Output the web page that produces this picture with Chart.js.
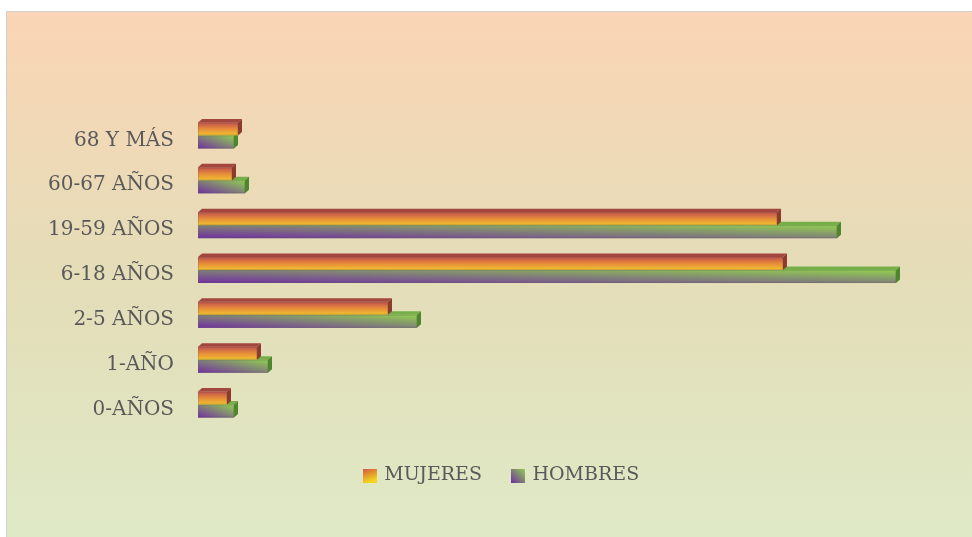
<!DOCTYPE html>
<html>
<head>
<meta charset="utf-8">
<title>Población por grupo de edad</title>
<script src="https://cdn.jsdelivr.net/npm/chart.js@4/dist/chart.umd.min.js"></script>
<style>
  html, body { margin: 0; padding: 0; background: #fff; }
  #wrap { width: 972px; height: 537px; }
</style>
</head>
<body>
<div id="wrap"><canvas id="edadChart" width="972" height="537"></canvas></div>
<script>
// categories, top to bottom
const categories = ['68 Y MÁS', '60-67 AÑOS', '19-59 AÑOS', '6-18 AÑOS', '2-5 AÑOS', '1-AÑO', '0-AÑOS'];
const mujeres = [40, 34, 579, 585, 190, 59, 29];
const hombres = [36, 47, 639, 698, 219, 70, 36];
const seriesNames = ['MUJERES', 'HOMBRES'];
const axisMax = 740;

const textColor = '#595959';
const fontFamily = "'DejaVu Serif', 'Liberation Serif', serif";

// gradient styles for each serie (front face in unit coords, plus 3D faces)
const barStyles = [
  {
    front: (ctx) => {
      const g = ctx.createLinearGradient(0, 0, 0, 1);
      g.addColorStop(0, '#C0504D');
      g.addColorStop(0.5, '#E68C3A');
      g.addColorStop(1, '#F2C22E');
      return g;
    },
    top: '#A3463F',
    side: '#8C3B2C'
  },
  {
    front: (ctx) => {
      const g = ctx.createLinearGradient(0, 1, 1, 0);
      g.addColorStop(0, '#7030A0');
      g.addColorStop(1, '#92D050');
      return g;
    },
    top: '#76AE48',
    side: '#4E862E'
  }
];

function paintBar(ctx, left, right, top, bottom, style) {
  const dx = 4, dy = 3.5;
  const w = right - left, h = bottom - top;
  if (w <= 0) return;

  ctx.save();
  ctx.translate(left, top);
  ctx.scale(w, h);
  ctx.fillStyle = style.front(ctx);
  ctx.fillRect(0, 0, 1, 1);
  ctx.restore();

  // top face
  ctx.beginPath();
  ctx.moveTo(left, top);
  ctx.lineTo(left + dx, top - dy);
  ctx.lineTo(right + dx, top - dy);
  ctx.lineTo(right, top);
  ctx.closePath();
  ctx.fillStyle = style.top;
  ctx.fill();

  // right face
  ctx.beginPath();
  ctx.moveTo(right, top);
  ctx.lineTo(right + dx, top - dy);
  ctx.lineTo(right + dx, bottom - dy);
  ctx.lineTo(right, bottom);
  ctx.closePath();
  ctx.fillStyle = style.side;
  ctx.fill();

  // soft outline
  ctx.strokeStyle = 'rgba(90, 90, 90, 0.25)';
  ctx.lineWidth = 1;
  ctx.strokeRect(left + 0.5, top + 0.5, w - 1, h - 1);
}

const backgroundPlugin = {
  id: 'backgroundPlugin',
  beforeDraw(chart) {
    const ctx = chart.ctx;
    ctx.save();
    ctx.fillStyle = '#ffffff';
    ctx.fillRect(0, 0, chart.width, chart.height);
    const g = ctx.createLinearGradient(0, 11, 0, chart.height);
    g.addColorStop(0, '#FBD5B5');
    g.addColorStop(0.5, '#E4DDB8');
    g.addColorStop(1, '#DFE9C6');
    ctx.fillStyle = g;
    ctx.fillRect(6, 11, chart.width - 6, chart.height - 11);
    ctx.strokeStyle = '#D0D0D0';
    ctx.lineWidth = 1;
    ctx.beginPath();
    ctx.moveTo(6.5, chart.height);
    ctx.lineTo(6.5, 11.5);
    ctx.lineTo(chart.width, 11.5);
    ctx.stroke();
    ctx.restore();
  }
};

const bars3dPlugin = {
  id: 'bars3dPlugin',
  afterLayout(chart) {
    // Excel centres the legend under the plot, not the whole chart
    if (chart.legend) {
      chart.legend.left += 18;
      chart.legend.right += 18;
    }
  },
  afterDatasetsDraw(chart) {
    const ctx = chart.ctx;
    // lower serie first so the upper one covers its top face
    [1, 0].forEach(i => {
      const meta = chart.getDatasetMeta(i);
      meta.data.forEach(bar => {
        const p = bar.getProps(['x', 'y', 'base', 'height'], true);
        const top = p.y - p.height / 2;
        const bottom = p.y + p.height / 2;
        paintBar(ctx, Math.min(p.base, p.x), Math.max(p.base, p.x), top, bottom, barStyles[i]);
      });
    });
  }
};

function legendSwatch(i) {
  const c = document.createElement('canvas');
  c.width = 14;
  c.height = 14;
  const cx = c.getContext('2d');
  let g;
  if (i === 0) {
    g = cx.createLinearGradient(0, 0, 5, 14);
    g.addColorStop(0, '#D0583F');
    g.addColorStop(1, '#F5D51E');
  } else {
    g = cx.createLinearGradient(0, 14, 14, 0);
    g.addColorStop(0, '#7030A0');
    g.addColorStop(1, '#92D050');
  }
  cx.fillStyle = g;
  cx.fillRect(0, 0, 14, 14);
  return c;
}

const swatches = [legendSwatch(0), legendSwatch(1)];

new Chart(document.getElementById('edadChart').getContext('2d'), {
  type: 'bar',
  data: {
    labels: categories,
    datasets: [
      {
        label: seriesNames[0],
        data: mujeres,
        backgroundColor: '#E68C3A',
        borderWidth: 0
      },
      {
        label: seriesNames[1],
        data: hombres,
        backgroundColor: '#8A8A8A',
        borderWidth: 0
      }
    ]
  },
  options: {
    indexAxis: 'y',
    responsive: false,
    animation: false,
    devicePixelRatio: 1,
    categoryPercentage: 0.58,
    barPercentage: 1,
    layout: {
      padding: { top: 113, left: 30, right: 34, bottom: 42 }
    },
    plugins: {
      tooltip: { enabled: false },
      legend: {
        position: 'bottom',
        labels: {
          usePointStyle: true,
          boxWidth: 10,
          boxHeight: 14,
          padding: 31,
          color: textColor,
          font: { family: fontFamily, size: 19 },
          generateLabels: (chart) => chart.data.datasets.map((ds, i) => ({
            text: ds.label,
            pointStyle: swatches[i],
            fillStyle: ds.backgroundColor,
            strokeStyle: 'transparent',
            lineWidth: 0,
            hidden: false,
            datasetIndex: i,
            fontColor: textColor
          }))
        }
      }
    },
    scales: {
      x: {
        min: 0,
        max: axisMax,
        display: true,
        ticks: { display: false },
        grid: { display: false, drawTicks: false },
        border: { display: false },
        title: { display: true, text: '', font: { size: 1, lineHeight: 1 }, padding: { top: 7, bottom: 0 } }
      },
      y: {
        grid: { display: false, drawTicks: false },
        border: { display: false },
        ticks: {
          padding: 24,
          labelOffset: 5,
          color: textColor,
          font: { family: fontFamily, size: 20 }
        },
        afterFit: (scale) => { scale.width = 168; }
      }
    }
  },
  plugins: [backgroundPlugin, bars3dPlugin]
});
</script>
</body>
</html>
